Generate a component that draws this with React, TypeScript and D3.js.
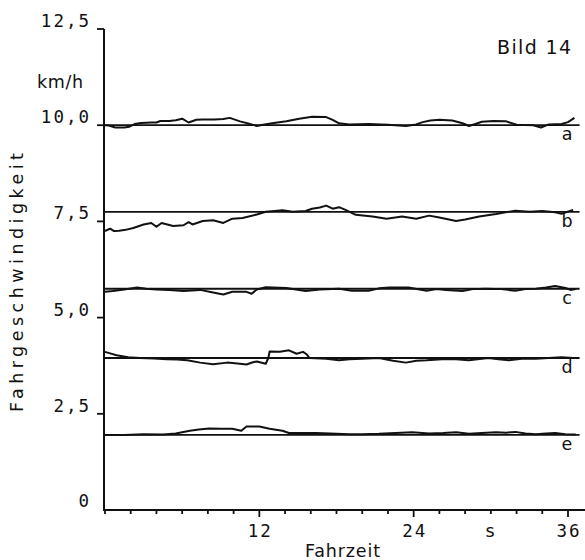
import React from "react";
import * as d3 from "d3";

// ---- data ----
const yTickValues = [12.5, 10.0, 7.5, 5.0, 2.5];
const yTickLabels = ["12,5", "10,0", "7,5", "5,0", "2,5"];
const xMajorTicks = [12, 24, 36];
const xMinorTicks = [0, 2, 4, 6, 8, 10, 14, 16, 18, 20, 22, 26, 28, 30, 32, 34];

const seriesNames = ["a", "b", "c", "d", "e"];
const setpoints = [10.0, 7.75, 5.75, 3.95, 1.95];

const traceA: [number, number][] = [
  [0, 10.0], [0.3, 9.99], [0.8, 9.94], [1.5, 9.94], [1.9, 9.96], [2.3, 10.03], [2.8, 10.06], [3.6, 10.07],
  [4.0, 10.07], [4.3, 10.11], [5.0, 10.11], [5.5, 10.13], [6.0, 10.17], [6.5, 10.07], [7.1, 10.14], [7.6, 10.15],
  [8.5, 10.15], [9.2, 10.16], [9.7, 10.19], [10.5, 10.1], [11.2, 10.04], [11.8, 9.98], [12.4, 10.02], [13.0, 10.05],
  [14.1, 10.1], [15.1, 10.17], [16.1, 10.22], [17.2, 10.21], [17.7, 10.14], [18.2, 10.05], [19.0, 10.02], [20.5, 10.03],
  [22.0, 10.01], [23.4, 9.98], [24.2, 10.02], [24.7, 10.08], [25.3, 10.12], [26.0, 10.14], [27.0, 10.12], [27.8, 10.05],
  [28.3, 9.98], [28.8, 10.03], [29.3, 10.09], [30.2, 10.11], [31.2, 10.1], [32.0, 10.01], [33.3, 10.0], [33.9, 9.94],
  [34.5, 10.02], [35.5, 10.03], [36.0, 10.08], [36.5, 10.19],
];
const traceB: [number, number][] = [
  [0, 7.25], [0.4, 7.31], [0.7, 7.25], [1.1, 7.26], [1.6, 7.28], [2.2, 7.33], [3.0, 7.42], [3.6, 7.46],
  [4.0, 7.36], [4.4, 7.46], [5.3, 7.38], [6.1, 7.4], [6.5, 7.48], [6.8, 7.42], [7.6, 7.51], [8.4, 7.53],
  [9.2, 7.46], [9.9, 7.57], [10.7, 7.59], [11.8, 7.68], [12.5, 7.75], [13.8, 7.79], [14.6, 7.75], [15.6, 7.77],
  [16.1, 7.83], [16.7, 7.86], [17.2, 7.91], [17.7, 7.83], [18.2, 7.87], [18.7, 7.8], [19.5, 7.67], [20.8, 7.63],
  [21.9, 7.57], [23.1, 7.63], [24.2, 7.57], [25.2, 7.65], [26.0, 7.6], [27.3, 7.51], [28.0, 7.55], [29.1, 7.63],
  [30.4, 7.69], [31.9, 7.78], [33.0, 7.75], [34.0, 7.77], [35.0, 7.74], [35.5, 7.7], [36.4, 7.8],
];
const traceC: [number, number][] = [
  [0, 5.67], [0.6, 5.69], [1.5, 5.73], [2.5, 5.78], [3.2, 5.75], [4.0, 5.73], [5.0, 5.72], [6.1, 5.69],
  [7.4, 5.72], [8.4, 5.65], [9.2, 5.6], [9.9, 5.67], [11.0, 5.67], [11.4, 5.62], [11.8, 5.73], [12.5, 5.79],
  [14.1, 5.77], [15.6, 5.69], [16.7, 5.73], [18.2, 5.75], [19.2, 5.7], [20.5, 5.7], [21.3, 5.76], [22.1, 5.78],
  [23.6, 5.78], [25.0, 5.7], [25.8, 5.74], [26.5, 5.72], [27.8, 5.69], [28.6, 5.74], [29.6, 5.75], [30.8, 5.74],
  [31.9, 5.7], [32.7, 5.74], [33.5, 5.75], [34.3, 5.78], [35.0, 5.82], [35.8, 5.77], [36.2, 5.72], [36.6, 5.74],
];
const traceD: [number, number][] = [
  [0, 4.11], [0.4, 4.07], [0.9, 4.02], [1.8, 3.97], [2.7, 3.95], [3.8, 3.94], [4.8, 3.92], [5.6, 3.91],
  [6.4, 3.89], [7.4, 3.83], [8.4, 3.79], [9.5, 3.83], [10.3, 3.81], [11.0, 3.78], [11.5, 3.84], [11.8, 3.86],
  [12.5, 3.8], [12.7, 3.95], [12.8, 4.12], [13.6, 4.11], [14.3, 4.15], [14.9, 4.06], [15.4, 4.11], [15.7, 4.04],
  [15.9, 3.95], [17.2, 3.93], [18.2, 3.89], [19.0, 3.92], [20.0, 3.93], [21.3, 3.95], [22.4, 3.88], [23.4, 3.83],
  [24.2, 3.88], [25.0, 3.89], [26.2, 3.92], [27.3, 3.92], [28.3, 3.89], [29.8, 3.95], [30.6, 3.92], [31.4, 3.89],
  [32.4, 3.93], [33.5, 3.93], [34.5, 3.95], [35.5, 3.97], [36.4, 3.95],
];
const traceE: [number, number][] = [
  [0, 1.95], [1.5, 1.95], [3.0, 1.97], [4.5, 1.96], [5.5, 1.99], [6.6, 2.06], [7.3, 2.09], [8.1, 2.12],
  [9.0, 2.11], [9.9, 2.11], [10.6, 2.06], [11.0, 2.17], [12.0, 2.17], [12.8, 2.11], [13.8, 2.06], [14.3, 2.0],
  [15.5, 2.0], [16.4, 2.0], [17.5, 1.99], [19.0, 1.97], [20.0, 1.97], [21.3, 1.98], [22.6, 2.0], [23.9, 2.02],
  [25.2, 1.99], [26.3, 2.0], [27.3, 2.02], [28.3, 1.98], [29.3, 2.0], [30.4, 2.02], [31.2, 2.01], [31.9, 2.03],
  [32.7, 1.99], [33.5, 1.97], [34.3, 1.99], [35.0, 2.0], [35.8, 1.97], [36.6, 1.96],
];
const traces = [traceA, traceB, traceC, traceD, traceE];

const W = 585;
const H = 560;
const INK = "#111";

export default function App() {
  const x = d3.scaleLinear().domain([0, 36]).range([105, 568]);
  const y = d3.scaleLinear().domain([0, 12.5]).range([510, 29]);
  const line = d3
    .line<[number, number]>()
    .x((d) => x(d[0]))
    .y((d) => y(d[1]));

  const x0 = x(0) - 1;
  const xAxisEnd = 585;
  const refEnd = x(36.9);
  const mono = "'DejaVu Sans Mono', monospace";
  const sans = "'DejaVu Sans', sans-serif";

  return (
    <div style={{ position: "fixed", left: 0, top: 0 }}>
      <svg width={W} height={H} style={{ display: "block", background: "#fff" }}>
        {/* y axis */}
        <line x1={x0} x2={x0} y1={y(12.5)} y2={y(0)} stroke={INK} strokeWidth={2} />
        {yTickValues.map((v, i) => (
          <g key={"yt" + i}>
            <line x1={x0 - 7} x2={x0} y1={y(v)} y2={y(v)} stroke={INK} strokeWidth={1.8} />
            <text
              x={91}
              y={y(v) - 2}
              textAnchor="end"
              fontFamily={mono}
              fontSize={17.5}
              letterSpacing={2}
              fill={INK}
            >
              {yTickLabels[i]}
            </text>
          </g>
        ))}
        <text x={91} y={y(0) - 3} textAnchor="end" fontFamily={mono} fontSize={17.5} letterSpacing={2} fill={INK}>
          0
        </text>
        <text x={37} y={88} fontFamily={sans} fontSize={17.5} textLength={46} lengthAdjust="spacing" fill={INK}>
          km/h
        </text>
        <text
          transform={`translate(23, 282.5) rotate(-90)`}
          textAnchor="middle"
          fontFamily={sans}
          fontSize={17.5}
          textLength={259}
          lengthAdjust="spacing"
          fill={INK}
        >
          Fahrgeschwindigkeit
        </text>

        {/* x axis */}
        <line x1={x0 - 1} x2={xAxisEnd} y1={y(0)} y2={y(0)} stroke={INK} strokeWidth={2} />
        {xMinorTicks.map((t) => (
          <line key={"xm" + t} x1={x(t)} x2={x(t)} y1={y(0)} y2={y(0) + 4} stroke={INK} strokeWidth={1.8} />
        ))}
        {xMajorTicks.map((t) => (
          <g key={"xM" + t}>
            <line x1={x(t)} x2={x(t)} y1={y(0)} y2={y(0) + 7} stroke={INK} strokeWidth={1.8} />
            <text
              x={x(t) + 1}
              y={537}
              textAnchor="middle"
              fontFamily={mono}
              fontSize={17.5}
              letterSpacing={2}
              fill={INK}
            >
              {String(t)}
            </text>
          </g>
        ))}
        <text x={490} y={537} textAnchor="middle" fontFamily={sans} fontSize={17.5} fill={INK}>
          s
        </text>
        <text x={305} y={557} fontFamily={sans} fontSize={17.5} textLength={75} lengthAdjust="spacing" fill={INK}>
          Fahrzeit
        </text>

        {/* title */}
        <text x={497} y={54} fontFamily={sans} fontSize={19} textLength={74} lengthAdjust="spacing" fill={INK}>
          Bild 14
        </text>

        {/* setpoint lines and traces */}
        {setpoints.map((s, i) => (
          <g key={"s" + i}>
            <line x1={x0} x2={refEnd} y1={y(s)} y2={y(s)} stroke={INK} strokeWidth={1.8} />
            <path d={line(traces[i]) || ""} fill="none" stroke={INK} strokeWidth={2} strokeLinejoin="round" />
            <text x={x(36) - 1} y={y(s) + 15} textAnchor="middle" fontFamily={sans} fontSize={17.5} fill={INK}>
              {seriesNames[i]}
            </text>
          </g>
        ))}
      </svg>
    </div>
  );
}
